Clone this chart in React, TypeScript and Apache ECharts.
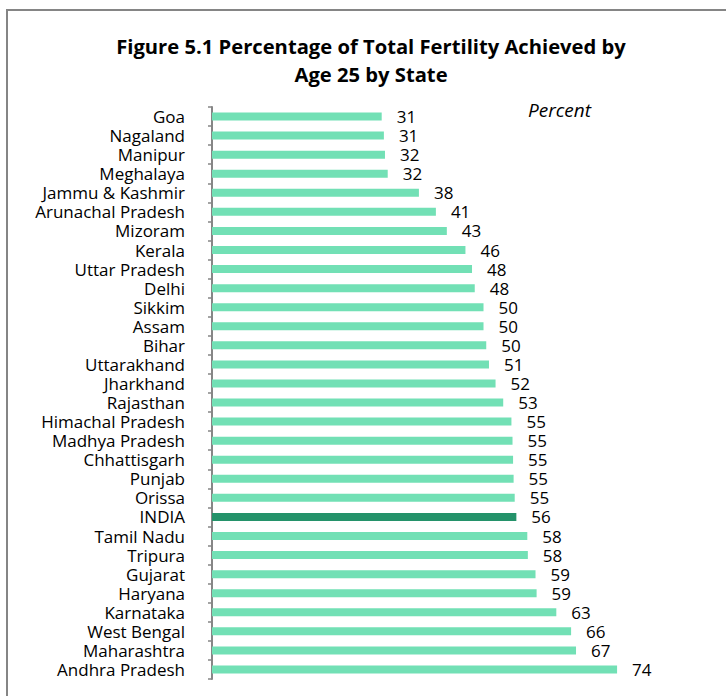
import React, { useEffect, useRef } from "react";
import * as echarts from "echarts";

const states = [
  "Goa", "Nagaland", "Manipur", "Meghalaya", "Jammu & Kashmir", "Arunachal Pradesh",
  "Mizoram", "Kerala", "Uttar Pradesh", "Delhi", "Sikkim", "Assam", "Bihar",
  "Uttarakhand", "Jharkhand", "Rajasthan", "Himachal Pradesh", "Madhya Pradesh",
  "Chhattisgarh", "Punjab", "Orissa", "INDIA", "Tamil Nadu", "Tripura", "Gujarat",
  "Haryana", "Karnataka", "West Bengal", "Maharashtra", "Andhra Pradesh",
];
const values = [
  31.0, 31.4, 31.6, 32.1, 37.8, 40.9, 42.9, 46.3, 47.5, 48.0, 49.6, 49.6, 50.1,
  50.6, 51.8, 53.2, 54.7, 54.9, 55.0, 55.1, 55.3, 55.6, 57.6, 57.7, 59.1, 59.3,
  62.9, 65.6, 66.5, 74.0,
];
const highlight = "INDIA";
const titleLines = ["Figure 5.1 Percentage of Total Fertility Achieved by", "Age 25 by State"];
const unitLabel = "Percent";

const FONT = "'Open Sans', sans-serif";

export default function App() {
  const ref = useRef<HTMLDivElement>(null);
  useEffect(() => {
    if (!ref.current) return;
    const chart = echarts.init(ref.current, null, { renderer: "svg" });
    const pxPerUnit = 5.474;
    const xMax = 90;
    chart.setOption({
      animation: false,
      backgroundColor: "#ffffff",
      graphic: [
        {
          type: "rect",
          shape: { x: 7, y: 10, width: 760, height: 720 },
          style: { fill: "none", stroke: "#858585", lineWidth: 2 },
          silent: true,
        },
        {
          type: "text",
          x: 371,
          y: 32,
          style: {
            text: titleLines.join("\n"),
            fontFamily: FONT,
            fontWeight: "bold",
            fontSize: 20.2,
            lineHeight: 28,
            fill: "#000",
            align: "center",
            verticalAlign: "top",
          },
        },
        {
          type: "text",
          x: 528,
          y: 110,
          style: {
            text: unitLabel,
            fontFamily: FONT,
            fontStyle: "italic",
            fontSize: 19,
            fill: "#000",
            verticalAlign: "middle",
            align: "left",
          },
        },
      ],
      grid: {
        left: 212,
        top: 107,
        width: xMax * pxPerUnit,
        height: 572,
        containLabel: false,
      },
      xAxis: {
        type: "value",
        min: 0,
        max: xMax,
        show: false,
      },
      yAxis: {
        type: "category",
        data: states,
        inverse: true,
        axisLine: { show: true, lineStyle: { color: "#868686", width: 2 } },
        axisTick: { show: true, interval: 0, length: 4, lineStyle: { color: "#868686", width: 1.5 } },
        axisLabel: {
          interval: 0,
          margin: 27,
          fontFamily: FONT,
          fontSize: 17,
          lineHeight: 18,
          color: "#000",
        },
        splitLine: { show: false },
      },
      series: [
        {
          type: "bar",
          barWidth: 8,
          data: values.map((v, i) => ({
            value: v,
            itemStyle: { color: states[i] === highlight ? "#24926A" : "#72E0B5" },
          })),
          label: {
            show: true,
            position: "right",
            distance: 15,
            fontFamily: FONT,
            fontSize: 17,
            lineHeight: 18,
            color: "#000",
            formatter: (p: any) => String(Math.round(p.value)),
          },
        },
      ],
    });
    return () => chart.dispose();
  }, []);
  return (
    <div
      ref={ref}
      style={{ position: "fixed", left: 0, top: 0, width: 726, height: 696 }}
    />
  );
}
